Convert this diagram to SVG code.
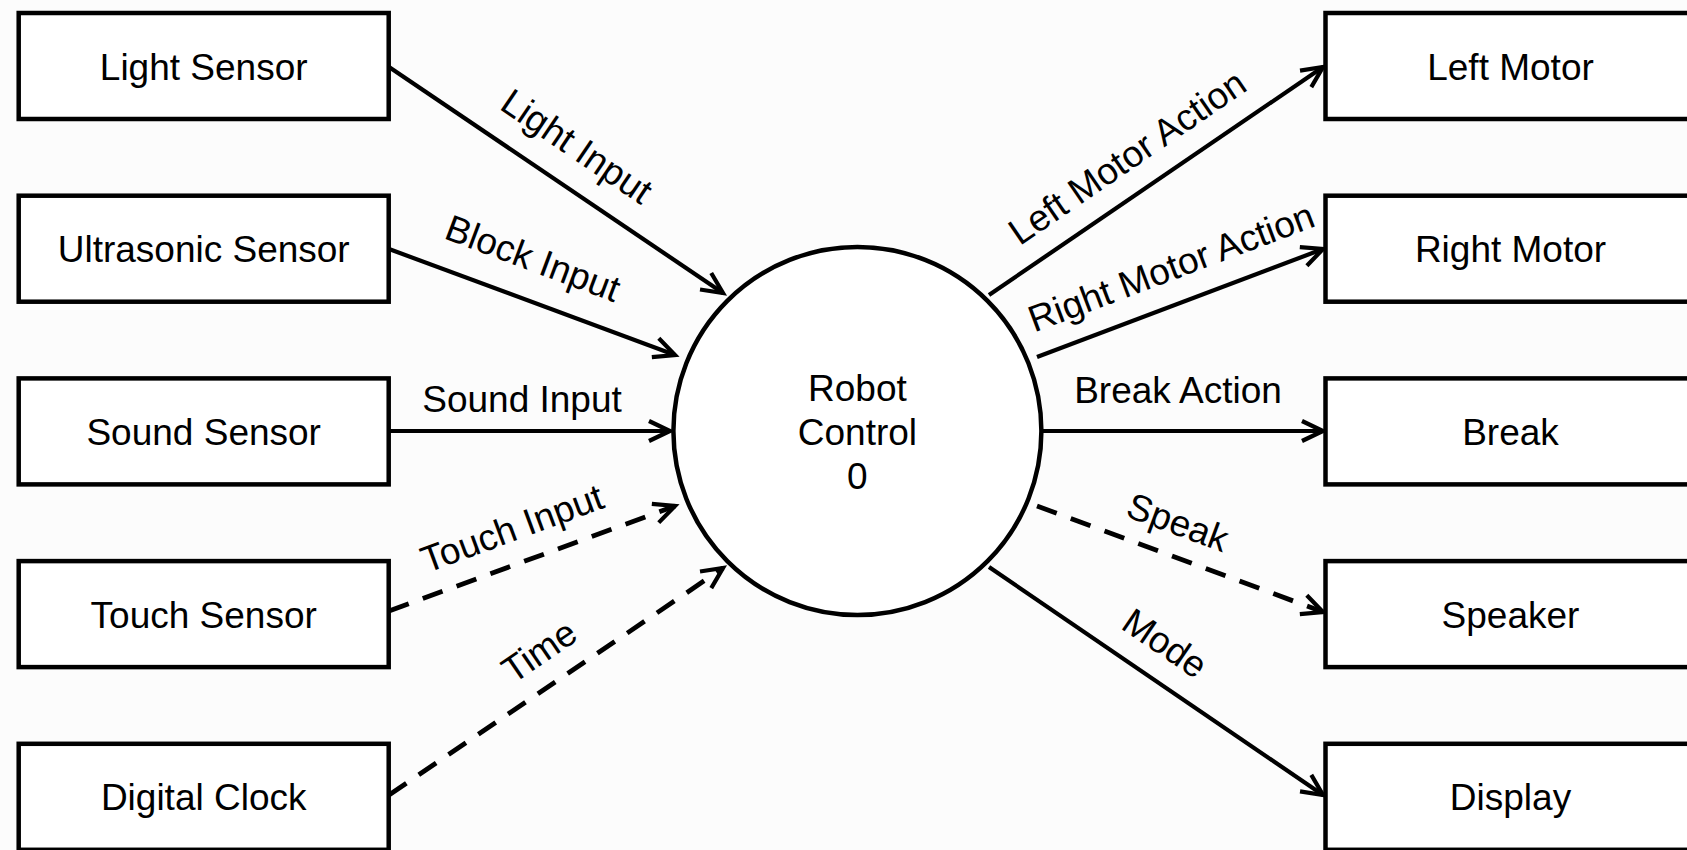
<svg xmlns="http://www.w3.org/2000/svg" width="1687" height="850" viewBox="0 0 1687 850">
  <style>
    .box { fill: #ffffff; stroke: #000000; stroke-width: 4.5; }
    .proc { fill: #ffffff; stroke: #000000; stroke-width: 4.5; }
    .lbl { font-family: "Liberation Sans", Arial, sans-serif; font-size: 37px; fill: #000000; text-anchor: middle; }
    .flow { fill: none; stroke: #000000; stroke-width: 4.2; marker-end: url(#arrow); }
    .dash { stroke-width: 4.8; stroke-dasharray: 21 15; }
  </style>
  <defs>
    <marker id="arrow" markerUnits="userSpaceOnUse" markerWidth="1" markerHeight="1" refX="0" refY="0" orient="auto" overflow="visible">
      <path d="M-21,-10 L0,0 L-21,10" fill="none" stroke="#000000" stroke-width="4.2"/>
    </marker>
  </defs>

  <rect x="0" y="0" width="1687" height="850" fill="#fcfcfc"/>

  <!-- data flows -->
  <g id="connectors">
    <line class="flow" x1="389" y1="67" x2="723" y2="293"/>
    <line class="flow" x1="389" y1="249" x2="675" y2="355"/>
    <line class="flow" x1="389" y1="431" x2="670" y2="431"/>
    <line class="flow dash" x1="389" y1="611" x2="675" y2="506"/>
    <line class="flow dash" x1="389" y1="795" x2="723" y2="568"/>
    <line class="flow" x1="989" y1="295" x2="1323" y2="67"/>
    <line class="flow" x1="1037" y1="357" x2="1323" y2="249"/>
    <line class="flow" x1="1043" y1="431" x2="1323" y2="431"/>
    <line class="flow dash" x1="1037" y1="506" x2="1323" y2="612"/>
    <line class="flow" x1="989" y1="567" x2="1323" y2="795"/>

    <text class="lbl" transform="translate(577,146) rotate(34.2)" y="13">Light Input</text>
    <text class="lbl" transform="translate(533,258) rotate(20.6)" y="13">Block Input</text>
    <text class="lbl" x="522" y="412">Sound Input</text>
    <text class="lbl" transform="translate(512,528) rotate(-20.2)" y="13">Touch Input</text>
    <text class="lbl" transform="translate(539,651) rotate(-34.3)" y="13">Time</text>
    <text class="lbl" transform="translate(1127,157) rotate(-34.4)" y="13">Left Motor Action</text>
    <text class="lbl" transform="translate(1171,267) rotate(-20.7)" y="13">Right Motor Action</text>
    <text class="lbl" x="1178" y="403">Break Action</text>
    <text class="lbl" transform="translate(1178,522) rotate(20.3)" y="13">Speak</text>
    <text class="lbl" transform="translate(1165,643) rotate(34.3)" y="13">Mode</text>
  </g>

  <!-- sources -->
  <g id="light-sensor">
    <rect class="box" x="18.7" y="13" width="370" height="106"/>
    <text class="lbl" x="203.7" y="79.5">Light Sensor</text>
  </g>
  <g id="ultrasonic-sensor">
    <rect class="box" x="18.7" y="195.7" width="370" height="106"/>
    <text class="lbl" x="203.7" y="262.2">Ultrasonic Sensor</text>
  </g>
  <g id="sound-sensor">
    <rect class="box" x="18.7" y="378.4" width="370" height="106"/>
    <text class="lbl" x="203.7" y="444.9">Sound Sensor</text>
  </g>
  <g id="touch-sensor">
    <rect class="box" x="18.7" y="561.1" width="370" height="106"/>
    <text class="lbl" x="203.7" y="627.6">Touch Sensor</text>
  </g>
  <g id="digital-clock">
    <rect class="box" x="18.7" y="743.8" width="370" height="106"/>
    <text class="lbl" x="203.7" y="810.3">Digital Clock</text>
  </g>

  <!-- process -->
  <g id="robot-control">
    <circle class="proc" cx="857.4" cy="431" r="184"/>
    <text class="lbl" x="857.4" y="401">Robot</text>
    <text class="lbl" x="857.4" y="445">Control</text>
    <text class="lbl" x="857.4" y="489">0</text>
  </g>

  <!-- sinks -->
  <g id="left-motor">
    <rect class="box" x="1325.5" y="13" width="370" height="106"/>
    <text class="lbl" x="1510.5" y="79.5">Left Motor</text>
  </g>
  <g id="right-motor">
    <rect class="box" x="1325.5" y="195.7" width="370" height="106"/>
    <text class="lbl" x="1510.5" y="262.2">Right Motor</text>
  </g>
  <g id="break">
    <rect class="box" x="1325.5" y="378.4" width="370" height="106"/>
    <text class="lbl" x="1510.5" y="444.9">Break</text>
  </g>
  <g id="speaker">
    <rect class="box" x="1325.5" y="561.1" width="370" height="106"/>
    <text class="lbl" x="1510.5" y="627.6">Speaker</text>
  </g>
  <g id="display">
    <rect class="box" x="1325.5" y="743.8" width="370" height="106"/>
    <text class="lbl" x="1510.5" y="810.3">Display</text>
  </g>
</svg>
